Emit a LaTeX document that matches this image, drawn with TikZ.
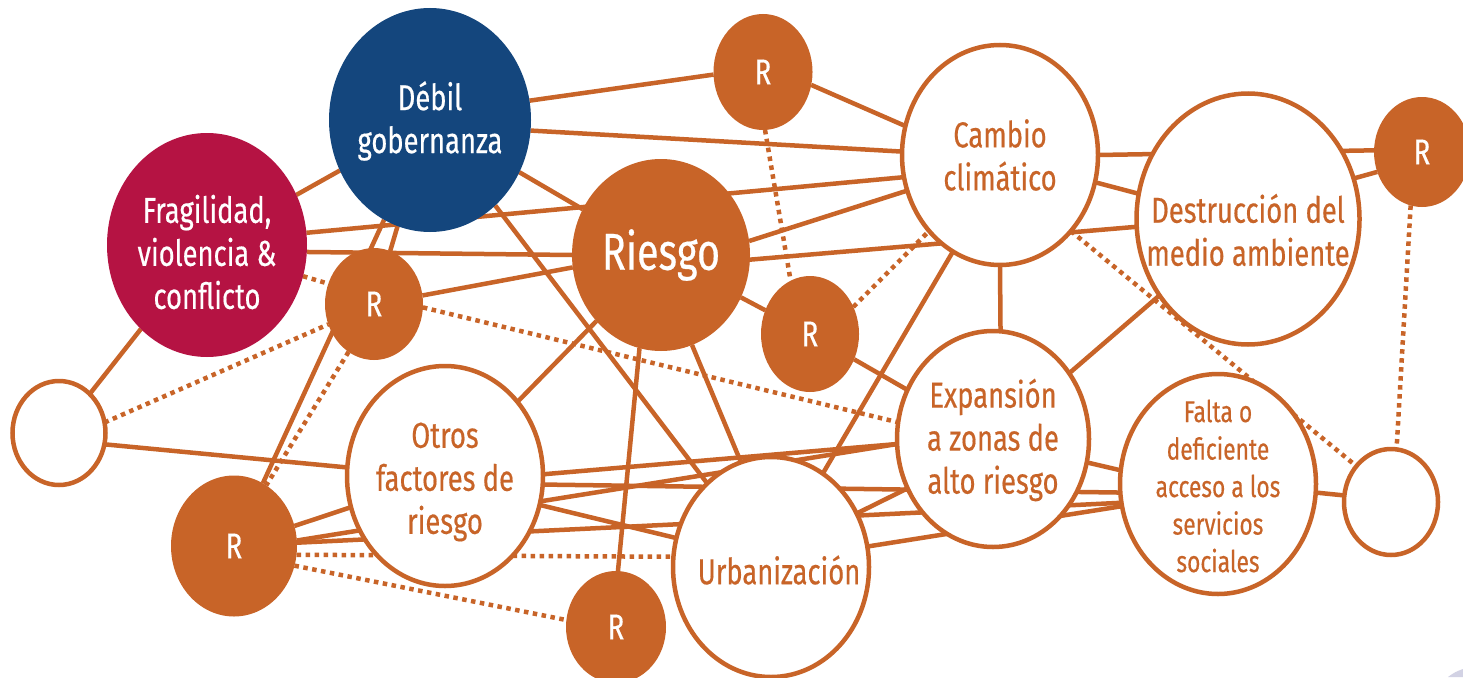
\documentclass[tikz,border=0pt]{standalone}
\usepackage{fontspec}
\setmainfont{Fira Sans}[FakeStretch=0.76, FakeBold=0.4]
\usetikzlibrary{shapes.geometric,backgrounds}
\definecolor{rorange}{RGB}{200,100,40}
\definecolor{rblue}{RGB}{20,70,125}
\definecolor{rcrimson}{RGB}{181,19,67}
\definecolor{rshade}{RGB}{210,210,228}
\begin{document}
\begin{tikzpicture}[x=1pt,y=-1pt,
  base/.style={ellipse, inner sep=0pt, outer sep=0pt},
  hollow/.style={base, draw=rorange, line width=4.5pt, fill=white},
  filledR/.style={base, fill=rorange},
  lbl/.style={font=\fontsize{36}{43}\selectfont, align=center, inner sep=0pt, text=rorange},
  wlbl/.style={lbl, text=white},
  link/.style={draw=rorange, line width=4.5pt},
  dots/.style={link, dash pattern=on 4.5pt off 4.5pt},
]
\useasboundingbox (0,0) rectangle (1463,677);

% nodes
\node[base, fill=rblue, minimum width=202pt, minimum height=224pt] (dg) at (430,120) {};
\node[base, fill=rcrimson, minimum width=200pt, minimum height=224pt] (fv) at (207,245) {};
\node[filledR, minimum width=178pt, minimum height=192pt] (ri) at (661,255) {};
\node[filledR, minimum width=99pt, minimum height=116pt] (r1) at (763,72) {};
\node[hollow, minimum width=196pt, minimum height=220pt] (cc) at (1000,155) {};
\node[hollow, minimum width=223pt, minimum height=251pt] (dm) at (1248,219) {};
\node[filledR, minimum width=96pt, minimum height=110pt] (r2) at (1422,152) {};
\node[filledR, minimum width=98pt, minimum height=116pt] (r3) at (810,334) {};
\node[filledR, minimum width=98pt, minimum height=112pt] (r4) at (374,304) {};
\node[hollow, minimum width=93pt, minimum height=104pt] (e1) at (59,433) {};
\node[hollow, minimum width=196pt, minimum height=220pt] (of) at (445,476) {};
\node[filledR, minimum width=126pt, minimum height=141pt] (r5) at (234,546) {};
\node[filledR, minimum width=100pt, minimum height=112pt] (r6) at (616,627) {};
\node[hollow, minimum width=196pt, minimum height=220pt] (ur) at (771,567) {};
\node[hollow, minimum width=192pt, minimum height=216pt] (ex) at (993,439) {};
\node[hollow, minimum width=196pt, minimum height=220pt] (fa) at (1218,484) {};
\node[hollow, minimum width=94pt, minimum height=106pt] (e2) at (1391,502) {};

% texts
\node[wlbl] (dgt) at ([yshift=-1pt]dg.center) {Débil\\gobernanza};
\node[wlbl] (fvt) at ([yshift=-7pt]fv.center) {Fragilidad,\\violencia \&\\conflicto};
\node[wlbl, font=\fontsize{52}{60}\selectfont] (rit) at (ri) {Riesgo};
\node[wlbl] (r1t) at (r1) {R};
\node[wlbl] (r2t) at (r2) {R};
\node[wlbl] (r3t) at (r3) {R};
\node[wlbl] (r4t) at (r4) {R};
\node[wlbl] (r5t) at (r5) {R};
\node[wlbl] (r6t) at (r6) {R};
\node[lbl] (cct) at (cc) {Cambio\\climático};
\node[lbl] (dmt) at ([yshift=-11pt]dm.center) {Destrucción del\\medio ambiente};
\node[lbl] (oft) at ([yshift=-6pt]of.center) {Otros\\factores de\\riesgo};
\node[lbl] (urt) at ([xshift=8pt,yshift=-3pt]ur.center) {Urbanización};
\node[lbl] (ext) at ([yshift=-1pt]ex.center) {Expansión\\a zonas de\\alto riesgo};
\node[lbl, font=\fontsize{30}{37.5}\selectfont] (fat) at ([yshift=-2pt]fa.center) {Falta o\\deficiente\\acceso a los\\servicios\\sociales};

\fill[rshade] (1448,677) .. controls (1455,672) .. (1463,669) -- (1463,677) -- cycle;

\begin{pgfonlayer}{background}
\fill[white] (0,0) rectangle (1463,677);
\draw[link] (fv) -- (dg);
\draw[link] (fv.7) -- (cc.193);
\draw[link] (fv.-4) -- (ri.180);
\draw[dots] (fv.-18) -- (r4.156);
\draw[link] (fv) -- (e1);
\draw[dots] (e1.13) -- (r4.204);
\draw[link] (e1.-14) -- (of.175);
\draw[link] (dg.11) -- (r1.183);
\draw[link] (dg.-6) -- (cc.178);
\draw[link] (dg) -- (ri);
\draw[link] (dg) -- (ur);
\draw[link] (dg.253) -- (r4.73);
\draw[link] (dg) -- (r5);
\draw[dots] (r4.242) -- (r5.62);
\draw[link] (r4.10) -- (ri.188);
\draw[dots] (r4.-4) -- (ex.170);
\draw[link] (ri.9) -- (cc.201);
\draw[link] (ri.-3) -- (dm.184);
\draw[link] (ri) -- (r3);
\draw[link] (ri.-71) -- (ur.106);
\draw[link] (ri) -- (of);
\draw[link] (ri.257) -- (r6.88);
\draw[link] (r1.-15) -- (cc.163);
\draw[dots] (r1.-88) -- (r3.110);
\draw[dots] (r3.32) -- (cc.227);
\draw[link] (r3) -- (ex);
\draw[link] (cc.244) -- (ur.61);
\draw[link] (cc.-90) -- (ex.86);
\draw[link] (cc.-16) -- (dm.167);
\draw[link] (cc.0) -- (r2.178);
\draw[link] (dm.21) -- (r2.204);
\draw[link] (dm) -- (ex);
\draw[dots] (cc.-47) -- (e2.134);
\draw[dots] (r2.258) -- (e2.84);
\draw[link] (fa.-5) -- (e2.172);
\draw[link] (ex.-14) -- (fa.172);
\draw[link] (of.-5) -- (fa.185);
\draw[link] (r5.3) -- (fa.191);
\draw[link] (ur.12) -- (fa.193);
\draw[link] (ur.32) -- (ex.210);
\draw[link] (of.1) -- (ex.183);
\draw[link] (r5.5) -- (ex.183);
\draw[link] (of.-17) -- (ur.163);
\draw[link] (r5) -- (of);
\draw[dots] (r5.-8) -- (ur.174);
\draw[dots] (r5.-18) -- (r6.172);
\end{pgfonlayer}
\end{tikzpicture}
\end{document}
